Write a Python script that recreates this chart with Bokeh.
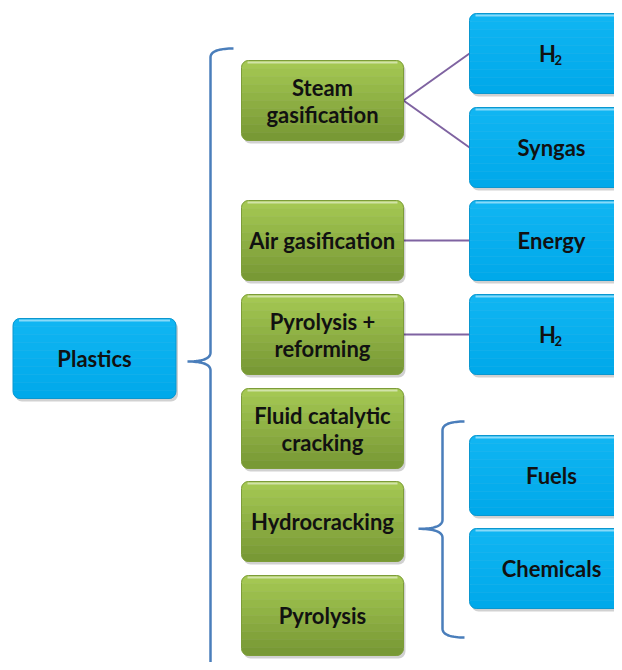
import numpy as np
from bokeh.plotting import figure
from bokeh.models import Range1d
from bokeh.embed import file_html
from bokeh.resources import INLINE
from bokeh.core.properties import value

# ---- data ----
source_label = ["Plastics"]
process_labels = ["Steam\ngasification", "Air gasification", "Pyrolysis +\nreforming",
                  "Fluid catalytic\ncracking", "Hydrocracking", "Pyrolysis"]
product_labels = ["H₂", "Syngas", "Energy", "H₂", "Fuels", "Chemicals"]
direct_links = [(0, 0), (0, 1), (1, 2), (2, 3)]   # (process index, product index)
grouped_processes = [3, 4, 5]
grouped_products = [4, 5]

# ---- layout (pixel space of the picture) ----
W, H = 614, 662
src_x, src_y, src_w, src_h = 94, 358, 163, 80
proc_x, proc_w, proc_h = 322, 162, 80
proc_y = [100, 240, 334, 428, 521, 615]
prod_x, prod_w, prod_h = 551, 164, 80
prod_y = [53, 147, 240, 334, 475, 568]

BLUE_TOP, BLUE_BOT = "#10B5F2", "#00A9EA"
BLUE_LINE = "#0A97CF"
GREEN_TOP, GREEN_BOT = "#A4C752", "#789935"
GREEN_LINE = "#7C9C38"
BRACE = "#4A7EBB"
LINK = "#7F63A1"
FONT = "Lato"
FSIZE = 22

p = figure(width=W, height=H, x_range=Range1d(0, W), y_range=Range1d(H, 0),
           output_backend="svg", toolbar_location=None, min_border=0)
p.axis.visible = False
p.grid.visible = False
p.outline_line_color = None
p.background_fill_color = "white"
p.border_fill_color = "white"


def hex2rgb(h):
    return np.array([int(h[i:i + 2], 16) for i in (1, 3, 5)], dtype=float)


def mix(a, b, t):
    c = hex2rgb(a) * (1 - t) + hex2rgb(b) * t
    return "#%02x%02x%02x" % tuple(int(round(v)) for v in c)


def boxes(xs, ys, w, h, top, bot, line, nb=10):
    n = len(xs)
    r = 7
    # shadow
    p.rect([x + 2 for x in xs], [y + 3 for y in ys], [w] * n, [h] * n,
           fill_color="#000000", fill_alpha=0.18, line_color=None, border_radius=r)
    # vertical gradient as stacked bands
    bh = h / nb
    for k in range(nb):
        rad = (r, r, 0, 0) if k == 0 else ((0, 0, r, r) if k == nb - 1 else 0)
        yc = [y - h / 2 + bh * (k + 0.5) for y in ys]
        p.rect(xs, yc, [w] * n, [bh + 0.6] * n, fill_color=mix(top, bot, k / (nb - 1)),
               line_color=None, border_radius=rad)
    p.rect(xs, ys, [w] * n, [h] * n, fill_color=None, line_color=line, line_width=1,
           border_radius=r)
    # bevel highlight on top edge
    p.segment([x - w / 2 + 6 for x in xs], [y - h / 2 + 2 for y in ys],
              [x + w / 2 - 6 for x in xs], [y - h / 2 + 2 for y in ys],
              line_color="white", line_alpha=0.5, line_width=2)


def labels(xs, ys, texts):
    # plain labels; subscript digits drawn smaller and lowered
    sub = str.maketrans("₀₁₂₃₄₅₆₇₈₉", "0123456789")
    for x, y, t in zip(xs, ys, texts):
        if any(ch in "₀₁₂₃₄₅₆₇₈₉" for ch in t):
            base = "".join(ch for ch in t if ch not in "₀₁₂₃₄₅₆₇₈₉")
            subs = "".join(ch for ch in t if ch in "₀₁₂₃₄₅₆₇₈₉").translate(sub)
            p.text([x - 4], [y], text=[base], text_font=value(FONT), text_font_style="bold",
                   text_font_size=f"{FSIZE}px", text_align="center", text_baseline="middle",
                   text_color="#111111")
            p.text([x + 3], [y + 6], text=[subs], text_font=value(FONT), text_font_style="bold",
                   text_font_size=f"{int(FSIZE * 0.62)}px", text_align="left",
                   text_baseline="middle", text_color="#111111")
        else:
            p.text([x], [y], text=[t], text_font=value(FONT), text_font_style="bold",
                   text_font_size=f"{FSIZE}px", text_align="center", text_baseline="middle",
                   text_color="#111111", text_line_height=1.0)


# links from processes to products
for pi, qi in direct_links:
    p.line([proc_x + proc_w / 2, prod_x - prod_w / 2], [proc_y[pi], prod_y[qi]],
           line_color=LINK, line_width=2)


def quad_curve(p0, c, p1, n=20):
    t = np.linspace(0, 1, n)
    xs = (1 - t) ** 2 * p0[0] + 2 * (1 - t) * t * c[0] + t ** 2 * p1[0]
    ys = (1 - t) ** 2 * p0[1] + 2 * (1 - t) * t * c[1] + t ** 2 * p1[1]
    return list(xs), list(ys)


def brace(x_spine, x_tip, x_end, y_top, y_bot, y_tip, r):
    xs, ys = [], []
    a = quad_curve((x_end, y_top), (x_spine, y_top), (x_spine, y_top + r))
    xs += a[0]; ys += a[1]
    b = quad_curve((x_spine, y_tip - r), (x_spine, y_tip), (x_tip, y_tip))
    xs += b[0]; ys += b[1]
    c = quad_curve((x_tip, y_tip), (x_spine, y_tip), (x_spine, y_tip + r))
    xs += c[0]; ys += c[1]
    d = quad_curve((x_spine, y_bot - r), (x_spine, y_bot), (x_end, y_bot))
    xs += d[0]; ys += d[1]
    p.line(xs, ys, line_color=BRACE, line_width=2.5)


# big brace grouping all processes
brace(210, 187, 233, 48, 700, 361, 9)
# small brace grouping last processes toward products
grp_top = prod_y[grouped_products[0]] - prod_h / 2 - 14
grp_bot = prod_y[grouped_products[-1]] + prod_h / 2 + 29
brace(442, 418, 464, grp_top, grp_bot, np.mean([proc_y[i] for i in grouped_processes]) + 7, 9)

# boxes
boxes([src_x], [src_y], src_w, src_h, BLUE_TOP, BLUE_BOT, BLUE_LINE)
boxes([proc_x] * len(process_labels), proc_y, proc_w, proc_h, GREEN_TOP, GREEN_BOT, GREEN_LINE)
boxes([prod_x] * len(product_labels), prod_y, prod_w, prod_h, BLUE_TOP, BLUE_BOT, BLUE_LINE)

labels([src_x], [src_y], source_label)
labels([proc_x] * len(process_labels), proc_y, process_labels)
labels([prod_x] * len(product_labels), prod_y, product_labels)

open("out.html", "w").write(file_html(p, INLINE))
